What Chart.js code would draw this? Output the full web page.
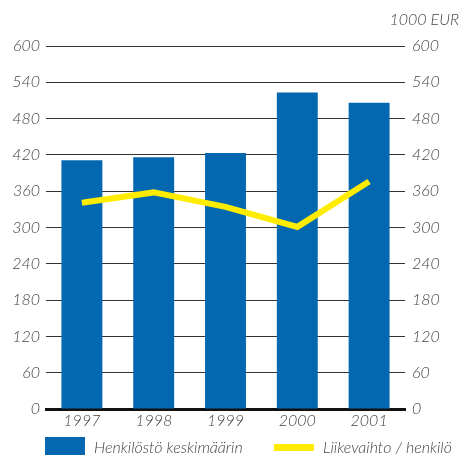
<!DOCTYPE html>
<html>
<head>
<meta charset="utf-8">
<script src="https://cdn.jsdelivr.net/npm/chart.js@4/dist/chart.umd.min.js"></script>
<style>
    body { margin: 0; background: #fff; }
    #wrap { position: relative; width: 462px; height: 455px; overflow: hidden; }
    .txt { position: absolute; font-family: Lato, sans-serif; font-style: italic; font-weight: 300; font-size: 16px; color: #444; white-space: nowrap; }
    .box { position: absolute; }
</style>
</head>
<body>
<div id="wrap">
    <canvas id="chart" width="462" height="455"></canvas>
    <div class="txt" style="right:3px; top:9px;">1000 EUR</div>
    <div class="box" style="left:45px; top:437px; width:40px; height:22px; background:#0468B1;"></div>
    <div class="txt" style="left:94px; top:437px;">Henkilöstö keskimäärin</div>
    <div class="box" style="left:274px; top:444px; width:40px; height:7px; background:#FFEC00;"></div>
    <div class="txt" style="left:323px; top:437px;">Liikevaihto / henkilö</div>
</div>
<script>
// values
const years = ['1997', '1998', '1999', '2000', '2001'];
const staffAverage = [411, 416, 423, 523, 506];
const revenuePerPerson = [341, 358, 334, 301, 376];
const axisMin = 0;
const axisMax = 600;
const axisStep = 60;

const tickFont = { family: 'Lato, sans-serif', style: 'italic', weight: 300, size: 16 };
const tickColor = '#444';

const ctx = document.getElementById('chart').getContext('2d');
new Chart(ctx, {
    data: {
        labels: years,
        datasets: [
            {
                type: 'line',
                label: 'Liikevaihto / henkilö',
                data: revenuePerPerson,
                yAxisID: 'y1',
                borderColor: '#FFEC00',
                borderWidth: 6,
                pointRadius: 0,
                tension: 0,
                order: 0
            },
            {
                type: 'bar',
                label: 'Henkilöstö keskimäärin',
                data: staffAverage,
                yAxisID: 'y',
                backgroundColor: '#0468B1',
                categoryPercentage: 1,
                barPercentage: 0.57,
                order: 1
            }
        ]
    },
    options: {
        responsive: false,
        animation: false,
        layout: { padding: { top: 46, bottom: 16, left: 0, right: 0 } },
        plugins: {
            legend: { display: false },
            tooltip: { enabled: false }
        },
        scales: {
            x: {
                grid: { display: false, drawTicks: false },
                border: { display: true, color: '#111', width: 3 },
                ticks: { font: tickFont, color: tickColor, padding: 2 },
                afterFit: s => { s.height = 30; }
            },
            y: {
                position: 'left',
                min: axisMin,
                max: axisMax,
                ticks: { stepSize: axisStep, font: tickFont, color: tickColor, padding: 6 },
                grid: { color: '#333', lineWidth: 1, drawTicks: false },
                border: { display: false },
                afterFit: s => { s.width = 46; }
            },
            y1: {
                position: 'right',
                min: axisMin,
                max: axisMax,
                ticks: { stepSize: axisStep, font: tickFont, color: tickColor, padding: 7 },
                grid: { display: false, drawTicks: false },
                border: { display: false },
                afterFit: s => { s.width = 57; }
            }
        }
    }
});
</script>
</body>
</html>
